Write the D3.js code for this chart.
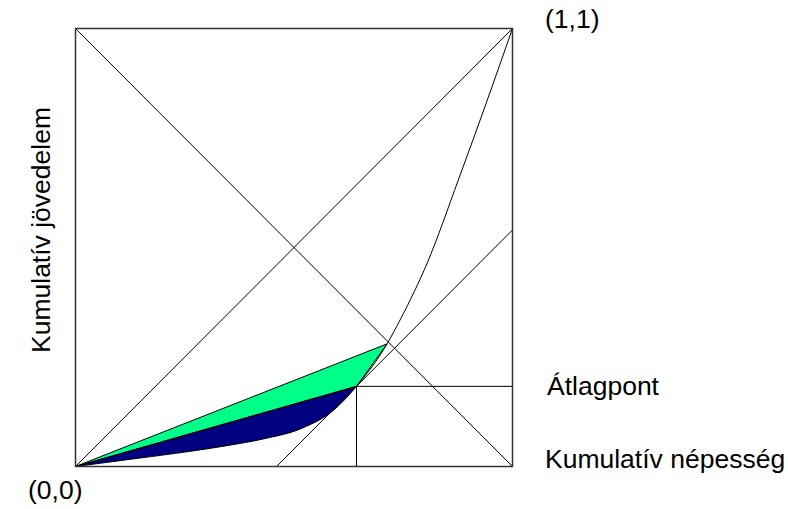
<!DOCTYPE html>
<html>
<head>
<meta charset="utf-8">
<script src="https://cdn.jsdelivr.net/npm/d3@7"></script>
<style>
  body { margin: 0; background: #fff; }
  text { font-family: "Liberation Sans", Arial, sans-serif; fill: #000; }
</style>
</head>
<body>
<div id="chart"></div>
<script>
// cumulative population share / cumulative income share (Lorenz curve)
var lorenzX = [0, 0.114, 0.229, 0.343, 0.43, 0.52, 0.59, 0.643, 0.713, 0.744, 0.805, 0.876, 0.94, 1];
var lorenzY = [0, 0.015, 0.03, 0.047, 0.063, 0.088, 0.128, 0.183, 0.28, 0.337, 0.465, 0.654, 0.83, 1];
var averageIdx = 7;   // Átlagpont
var crossIdx = 8;     // curve point where the green triangle ends
var tangentStart = [0.46, 0];
var tangentEnd = [1, 0.54];
var cornerLabels = ["(0,0)", "(1,1)"];
var sideLabels = ["Átlagpont", "Kumulatív népesség"];
var yTitle = "Kumulatív jövedelem";

var width = 788, height = 509;

var svg = d3.select("#chart")
  .append("svg")
  .attr("width", width)
  .attr("height", height);

var x = d3.scaleLinear().domain([0, 1]).range([75.5, 512.5]);
var y = d3.scaleLinear().domain([0, 1]).range([466.5, 28.5]);

var pts = lorenzX.map(function (d, i) { return [d, lorenzY[i]]; });
var avg = pts[averageIdx];
var cross = pts[crossIdx];

// blue area between chord to average point and the curve
var lower = pts.slice(0, averageIdx + 1);
var chordSlope = avg[1] / avg[0];
svg.append("path")
  .datum(lower)
  .attr("d", d3.area()
    .curve(d3.curveMonotoneX)
    .x(function (d) { return x(d[0]); })
    .y0(function (d) { return y(d[1]); })
    .y1(function (d) { return y(d[0] * chordSlope); }))
  .attr("fill", "#000080");

// green triangle
svg.append("path")
  .datum([[0, 0], cross, avg])
  .attr("d", function (d) {
    return d3.line().x(function (p) { return x(p[0]); }).y(function (p) { return y(p[1]); })(d) + "Z";
  })
  .attr("fill", "#00ff88")
  .attr("stroke", "#000")
  .attr("stroke-width", 1);

var seg = function (a, b, w) {
  svg.append("line")
    .attr("x1", x(a[0])).attr("y1", y(a[1]))
    .attr("x2", x(b[0])).attr("y2", y(b[1]))
    .attr("stroke", "#000")
    .attr("stroke-width", w || 1);
};

// diagonals
seg([0, 0], [1, 1]);
seg([0, 1], [1, 0]);
// tangent parallel to diagonal
seg(tangentStart, tangentEnd);
// average point guides
seg([avg[0], 0], avg);
seg(avg, [1, avg[1]]);
seg([0, 0], avg);

// Lorenz curve
svg.append("path")
  .datum(pts)
  .attr("d", d3.line()
    .curve(d3.curveMonotoneX)
    .x(function (d) { return x(d[0]); })
    .y(function (d) { return y(d[1]); }))
  .attr("fill", "none")
  .attr("stroke", "#000")
  .attr("stroke-width", 1);

// frame
svg.append("rect")
  .attr("x", x(0)).attr("y", y(1))
  .attr("width", x(1) - x(0))
  .attr("height", y(0) - y(1))
  .attr("fill", "none")
  .attr("stroke", "#333")
  .attr("stroke-width", 1.5);

// labels
svg.append("text").attr("x", 28).attr("y", 499)
  .attr("font-size", 26.5).text(cornerLabels[0]);
svg.append("text").attr("x", 545).attr("y", 28)
  .attr("font-size", 26.5).text(cornerLabels[1]);
svg.append("text").attr("x", 547).attr("y", 395)
  .attr("font-size", 26.5).text(sideLabels[0]);
svg.append("text").attr("x", 545).attr("y", 468)
  .attr("font-size", 26.5).text(sideLabels[1]);
svg.append("text")
  .attr("transform", "translate(50,230) rotate(-90)")
  .attr("text-anchor", "middle")
  .attr("font-size", 26.5)
  .text(yTitle);
</script>
</body>
</html>
